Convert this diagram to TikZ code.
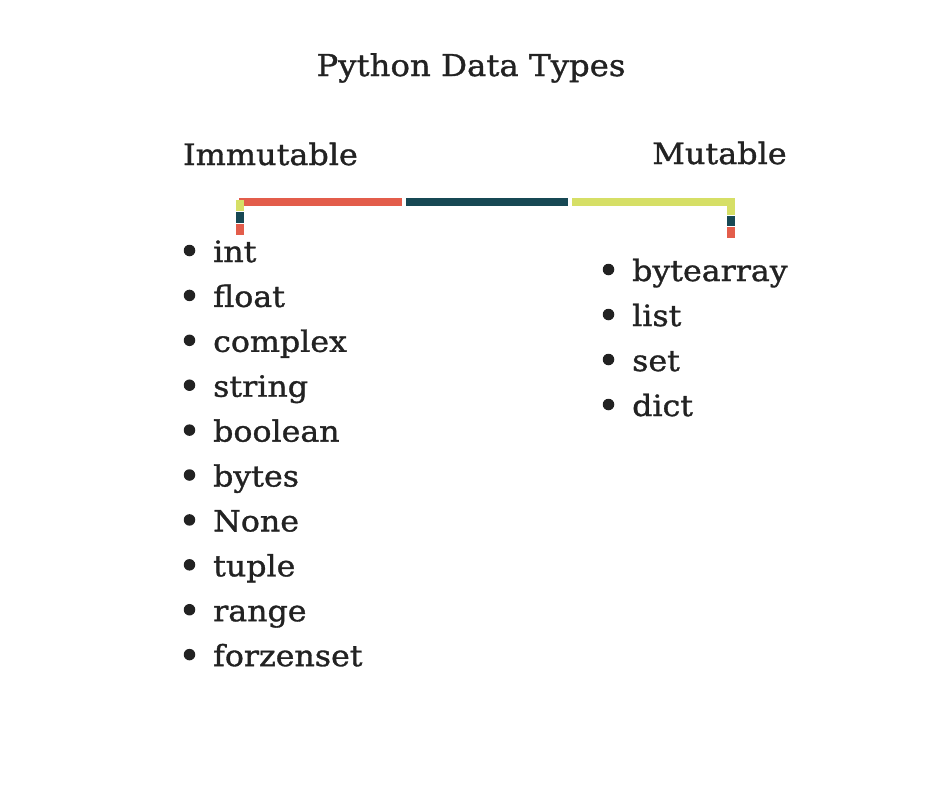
\documentclass[tikz,border=0pt]{standalone}
\usepackage{fontspec}
\setmainfont{DejaVu Serif}[FakeStretch=1.08,FakeBold=1.1]
\definecolor{ink}{HTML}{222222}
\definecolor{cred}{HTML}{E35D4B}
\definecolor{cteal}{HTML}{174854}
\definecolor{cyel}{HTML}{D6DF66}
\begin{document}
\begin{tikzpicture}[x=1pt,y=-1pt,
  txt/.style={inner sep=0pt,text=ink},
  ttl/.style={txt,anchor=base,font=\fontsize{30}{36}\selectfont},
  hdr/.style={txt,anchor=base,font=\fontsize{29.5}{36}\selectfont},
  itm/.style={txt,anchor=base west,font=\fontsize{29.3}{34}\selectfont},
  dot/.style={circle,fill=ink,inner sep=0pt,minimum size=11.5pt}]
\useasboundingbox (0,0) rectangle (940,788);
\fill[white] (0,0) rectangle (940,788);
% titles
\node[ttl] (title) at (471,76) {Python Data Types};
\node[hdr] (immut) at (270.5,165) {Immutable};
\node[hdr] (mut) at (719.5,164) {Mutable};
% bracket: horizontal bar
\fill[cred]  (239,198) rectangle (402,206);
\fill[cteal] (405.5,198) rectangle (568,206);
\fill[cyel]  (572,198) rectangle (735,206);
% left leg
\fill[cyel]  (236,200) rectangle (243.5,211);
\fill[cteal] (236,212) rectangle (243.5,222.5);
\fill[cred]  (236,223.5) rectangle (243.5,235);
% right leg
\fill[cyel]  (727,206) rectangle (735,214.5);
\fill[cteal] (727,215.5) rectangle (735,226);
\fill[cred]  (727,227) rectangle (735,238);
% immutable list
\foreach \t [count=\i from 0] in {int,float,complex,string,boolean,bytes,None,tuple,range,forzenset}{
  \node[itm] (L\i) at (213,{262+44.9*\i}) {\t};
  \node[dot] (LB\i) at (189.5,{250.5+44.9*\i}) {};
}
% mutable list
\foreach \t [count=\i from 0] in {bytearray,list,set,dict}{
  \node[itm] (R\i) at (632,{281+45*\i}) {\t};
  \node[dot] (RB\i) at (608.5,{269.5+45*\i}) {};
}
\end{tikzpicture}
\end{document}
